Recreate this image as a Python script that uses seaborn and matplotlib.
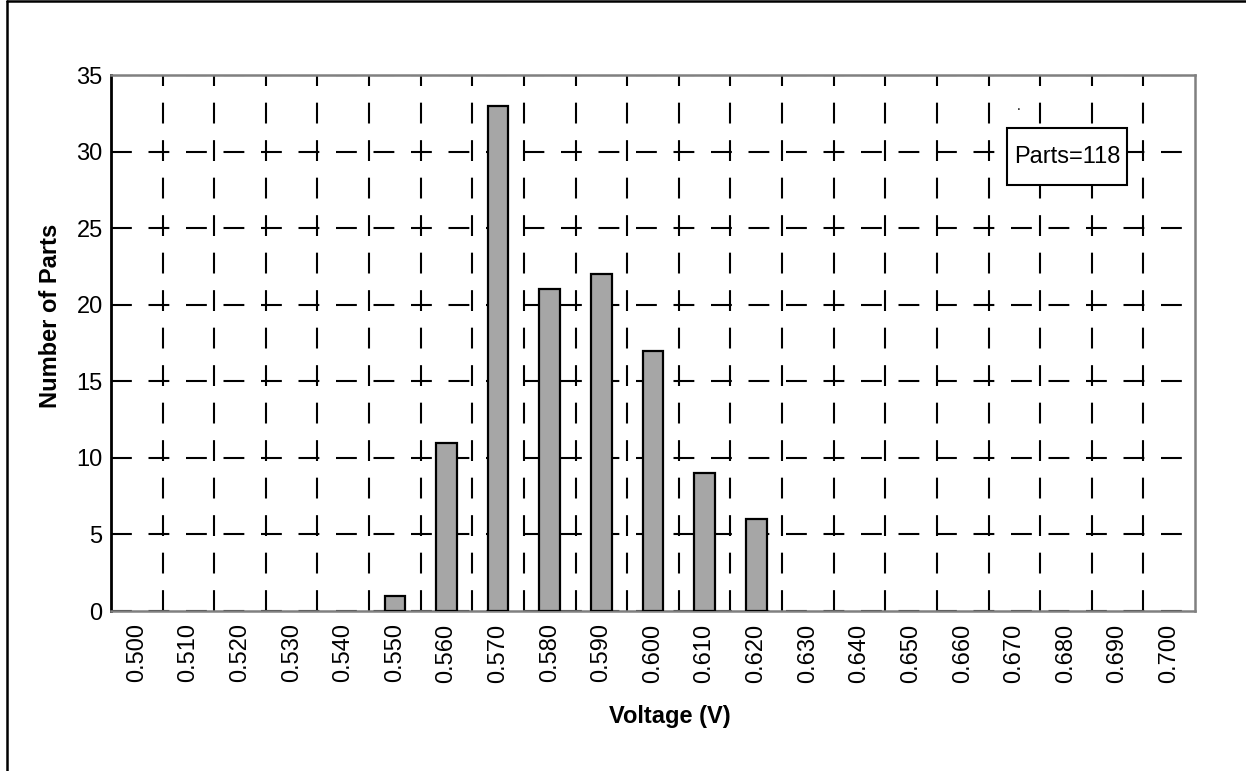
import seaborn as sns
import pandas as pd
import matplotlib.pyplot as plt
from matplotlib.lines import Line2D
from matplotlib.patches import Rectangle

voltages = ["0.500", "0.510", "0.520", "0.530", "0.540", "0.550", "0.560",
            "0.570", "0.580", "0.590", "0.600", "0.610", "0.620", "0.630",
            "0.640", "0.650", "0.660", "0.670", "0.680", "0.690", "0.700"]
counts = [0, 0, 0, 0, 0, 1, 11, 33, 21, 22, 17, 9, 6, 0, 0, 0, 0, 0, 0, 0, 0]
y_ticks = [0, 5, 10, 15, 20, 25, 30, 35]
note = "Parts=118"

sns.set_theme(style="white")
plt.rcParams["font.family"] = ["Liberation Sans", "DejaVu Sans"]
plt.rcParams["text.color"] = "black"
plt.rcParams["axes.labelcolor"] = "black"

df = pd.DataFrame({"Voltage": voltages, "Count": counts})

fig = plt.figure(figsize=(12.46, 7.71), dpi=100)
ax = fig.add_axes([111 / 1246, 1 - 611 / 771, 1084 / 1246, 536 / 771])

sns.barplot(data=df, x="Voltage", y="Count", order=voltages, color="#a6a6a6",
            saturation=1, width=0.4, edgecolor="black", linewidth=1.6,
            ax=ax, zorder=3)
# empty bins are not drawn in the original
for bar in ax.patches:
    if bar.get_height() == 0:
        bar.set_visible(False)

ax.set_ylim(0, 35)
ax.set_xlim(-0.5, len(voltages) - 0.5)
ax.set_yticks(y_ticks)
ax.set_yticklabels([str(t) for t in y_ticks], fontsize=17)
ax.set_xticks(range(len(voltages)))
ax.set_xticklabels(voltages, rotation=90, fontsize=17)
ax.set_xticks([i + 0.5 for i in range(len(voltages) - 1)], minor=True)
ax.tick_params(axis="both", which="both", length=0, colors="black")
ax.tick_params(axis="x", pad=9)
ax.tick_params(axis="y", pad=6)

dash = (0, (10, 8))
ax.grid(False)
ax.yaxis.grid(True, which="major", color="black", linestyle=dash, linewidth=1.5, zorder=1)
ax.xaxis.grid(True, which="minor", color="black", linestyle=dash, linewidth=1.5, zorder=1)
ax.set_axisbelow(True)

for side in ["top", "right", "bottom"]:
    ax.spines[side].set_color("#808080")
    ax.spines[side].set_linewidth(1.8)
ax.spines["left"].set_color("black")
ax.spines["left"].set_linewidth(2)

ax.set_xlabel("Voltage (V)", fontsize=17, fontweight="bold")
ax.set_ylabel("Number of Parts", fontsize=17, fontweight="bold")
ax.xaxis.set_label_coords(0.5157, -0.176)
ax.yaxis.set_label_coords(-0.0452, 0.55)

# annotation box
ax.add_patch(Rectangle((0.8266, 0.7948), 0.1107, 0.1063, transform=ax.transAxes,
                       facecolor="white", edgecolor="black", linewidth=1.5, zorder=5))
ax.text(0.882, 0.847, note, transform=ax.transAxes, ha="center", va="center",
        fontsize=17, zorder=6)
ax.text(0.8376, 0.929, ".", transform=ax.transAxes, ha="center", va="bottom",
        fontsize=10, zorder=6)

# outer frame (top and left only)
fig.add_artist(Line2D([0.0055, 1.0], [0.9985, 0.9985], transform=fig.transFigure,
                      color="black", linewidth=1.8))
fig.add_artist(Line2D([0.0055, 0.0055], [0.0, 0.9985], transform=fig.transFigure,
                      color="black", linewidth=1.8))

plt.savefig("out.png", dpi=100)
